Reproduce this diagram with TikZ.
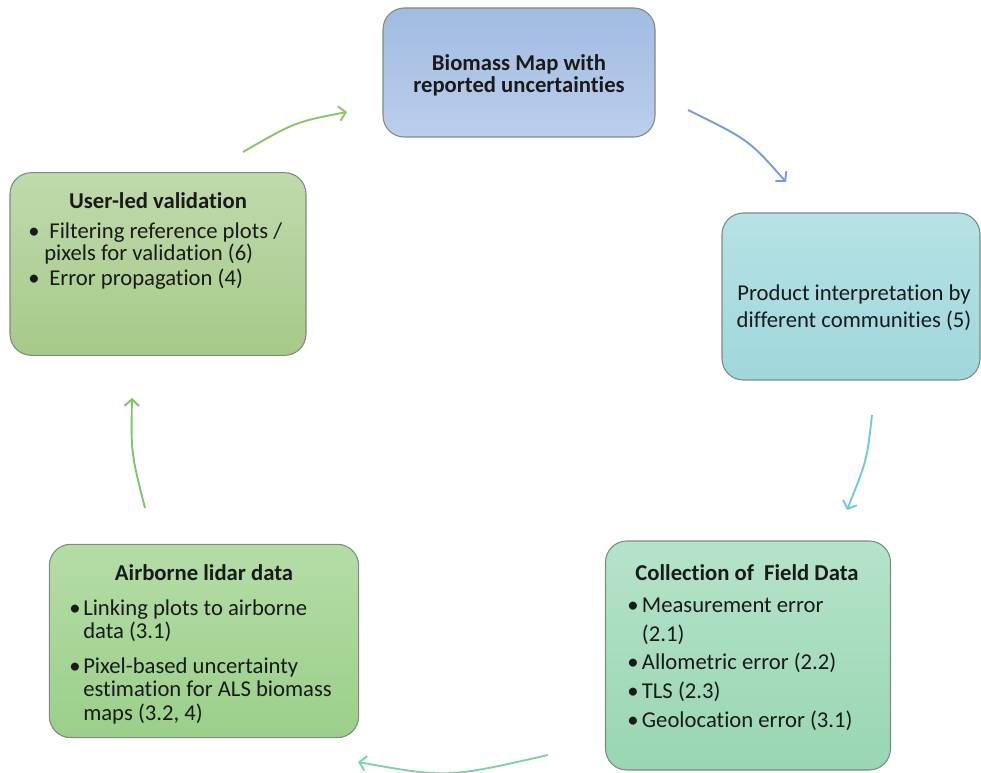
\documentclass[tikz,border=0pt]{standalone}
\usepackage{fontspec}
\setmainfont{Carlito}[Ligatures=NoCommon]
\usetikzlibrary{arrows.meta}
\definecolor{bioTop}{HTML}{A1BBE1}
\definecolor{bioBot}{HTML}{BBCFED}
\definecolor{prodTop}{HTML}{B6E2E5}
\definecolor{prodBot}{HTML}{9FD7DB}
\definecolor{collTop}{HTML}{B5E3CA}
\definecolor{collBot}{HTML}{99D6B1}
\definecolor{airTop}{HTML}{B4DDA6}
\definecolor{airBot}{HTML}{9BCF8A}
\definecolor{userTop}{HTML}{C0DAAC}
\definecolor{userBot}{HTML}{A5CA89}
\definecolor{boxline}{HTML}{7E8A82}
\definecolor{txt}{HTML}{1A1A1A}
\definecolor{arBlue}{HTML}{6E9FDB}
\definecolor{arTeal}{HTML}{6FCBD1}
\definecolor{arMint}{HTML}{7FD3A2}
\definecolor{arGreen}{HTML}{7CC46D}
\definecolor{arLime}{HTML}{8CC567}
\newcommand{\bl}[2][9pt]{\makebox[#1][l]{\textbullet}#2}
\newcommand{\bs}[2][9pt]{\hspace*{#1}#2}
\begin{document}
\begin{tikzpicture}[x=0.75pt,y=-0.75pt,
  box/.style={draw=boxline, line width=0.8pt, rounded corners=16pt, inner sep=0pt, shading angle=0},
  conn/.style={line width=1.4pt, -{Straight Barb[length=5pt,width=11pt,line width=1.4pt]}},
  ttl/.style={font=\bfseries\fontsize{17}{16.5}\selectfont, text=txt, inner sep=0pt, align=center},
  lst/.style={text=txt, inner sep=0pt, align=left, anchor=base west}]
\useasboundingbox (0,0) rectangle (981,773);

% boxes
\node[box, top color=bioTop, bottom color=bioBot, minimum width=204pt, minimum height=96.75pt] (bio) at (519,72.5) {};
\node[box, top color=prodTop, bottom color=prodBot, minimum width=193.5pt, minimum height=125.25pt] (prod) at (851,296.5) {};
\node[box, top color=collTop, bottom color=collBot, minimum width=213.75pt, minimum height=171.75pt] (coll) at (748,655.5) {};
\node[box, top color=airTop, bottom color=airBot, minimum width=232pt, minimum height=145pt] (air) at (204,641) {};
\node[box, top color=userTop, bottom color=userBot, minimum width=222pt, minimum height=137pt] (user) at (158,264) {};

% texts
\node[ttl] (bioT) at (519,75) {Biomass Map with\\reported uncertainties};
\node[text=txt, inner sep=0pt, align=center, font=\fontsize{17}{20}\selectfont] (prodT) at (854,308) {Product interpretation by\\different communities (5)};

\node[ttl] (collT) at (747,573) {Collection of\ \ Field Data};
\node[lst, font=\fontsize{17}{21.5}\selectfont] (collL) at (627,727)
  {\bl[11pt]{Measurement error}\\ \bs[11pt]{(2.1)}\\ \bl[11pt]{Allometric error (2.2)}\\ \bl[11pt]{TLS (2.3)}\\ \bl[11pt]{Geolocation error (3.1)}};

\node[ttl] (airT) at (204,573) {Airborne lidar data};
\node[lst, font=\fontsize{17}{17.6}\selectfont] (airL) at (69,720)
  {\bl[10.5pt]{Linking plots to airborne}\\ \bs[10.5pt]{data (3.1)}\\[8pt] \bl[10.5pt]{Pixel-based uncertainty}\\ \bs[10.5pt]{estimation for ALS biomass}\\ \bs[10.5pt]{maps (3.2, 4)}};

\node[ttl] (userT) at (158,201) {User-led validation};
\node[lst, font=\fontsize{17}{15}\selectfont] (userL) at (28,286)
  {\bl[12pt]{\ Filtering reference plots /}\\ \bs[12pt]{pixels for validation (6)}\\[3pt] \bl[12pt]{\ Error propagation (4)}};

% connector end points
\coordinate (a1s) at (688,110); \coordinate (a1e) at (786,182);
\coordinate (a2s) at (872,415); \coordinate (a2e) at (847,510);
\coordinate (a3s) at (548,755); \coordinate (a3e) at (358,762);
\coordinate (a4s) at (145,508); \coordinate (a4e) at (132,398);
\coordinate (a5s) at (243,152); \coordinate (a5e) at (347,112);

\draw[conn, arBlue] (a1s) .. controls (749,140) .. (a1e);
\draw[conn, arTeal] (a2s) .. controls (867,460) .. (a2e);
\draw[conn, arMint] (a3s) .. controls (447,778) .. (a3e);
\draw[conn, arGreen] (a4s) .. controls (131,453) .. (a4e);
\draw[conn, arLime] (a5s) .. controls (295,122) .. (a5e);
\end{tikzpicture}
\end{document}
